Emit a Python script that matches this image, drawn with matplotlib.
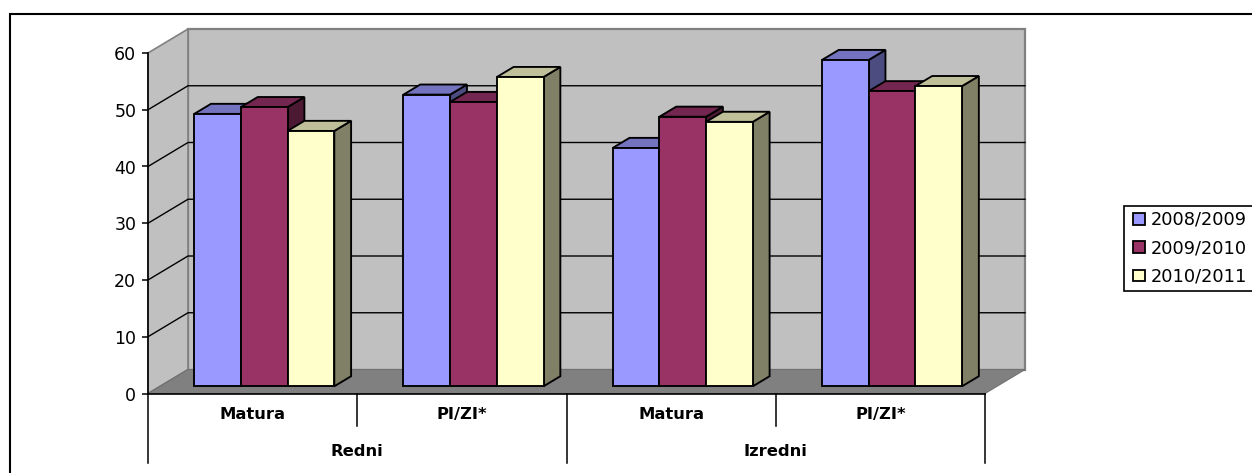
#!/usr/bin/env python3
import matplotlib
matplotlib.use('Agg')
import matplotlib.pyplot as plt
from matplotlib.patches import Polygon, Patch, Rectangle

# stretched Arial in the original, DejaVu has about the same text widths
plt.rcParams['font.family'] = ['DejaVu Sans']

# Data
groups = ['Redni', 'Izredni']
categories = ['Matura', 'PI/ZI*', 'Matura', 'PI/ZI*']
years = ['2008/2009', '2009/2010', '2010/2011']
values_2008 = [48.0, 51.4, 42.0, 57.5]
values_2009 = [49.2, 50.1, 47.5, 52.0]
values_2010 = [45.0, 54.5, 46.6, 52.9]
yticks = [0, 10, 20, 30, 40, 50, 60]

# front, top and side colours of each series
front_colors = ['#9999FF', '#993366', '#FFFFCC']
top_colors = ['#7373BF', '#732650', '#BFBF99']
side_colors = ['#4C4C80', '#4C1933', '#808066']

W, H = 1252, 473
fig = plt.figure(figsize=(W / 100, H / 100), dpi=100)
fig.patch.set_facecolor('white')

# axes is the front plane of the 3D box
left, right, y0, y60 = 148, 985, 393.5, 53
ax = fig.add_axes([left / W, 1 - y0 / H, (right - left) / W, (y0 - y60) / H])
ax.set_xlim(0, 4)
ax.set_ylim(0, 60)
ax.patch.set_visible(False)

px_x = 4 / (right - left)     # one pixel in x data units
px_y = 60 / (y0 - y60)        # one pixel in y data units
depth_x = 40 * px_x
depth_y = 24 * px_y


def proj(x, v, d):
    # d is the depth, 0 = front of the box, 1 = back wall
    return (x + d * depth_x, v + d * depth_y)


def face(points, color, edge, lw=1.0, z=1):
    ax.add_patch(Polygon(points, closed=True, facecolor=color, edgecolor=edge,
                         linewidth=lw, joinstyle='miter', clip_on=False, zorder=z))


# walls and floor
wall_edge = '#808080'
face([proj(0, 0, 1), proj(4, 0, 1), proj(4, 60, 1), proj(0, 60, 1)], '#C0C0C0', wall_edge, 1.6)
face([proj(0, 0, 0), proj(0, 0, 1), proj(0, 60, 1), proj(0, 60, 0)], '#C0C0C0', wall_edge, 1.2)
face([proj(0, 0, 0), proj(4, 0, 0), proj(4, 0, 1), proj(0, 0, 1)], '#808080', '#707070', 0.8)

# gridlines on both walls
for t in yticks[1:-1]:
    xs, ys = zip(proj(0, t, 0), proj(0, t, 1), proj(4, t, 1))
    ax.plot(xs, ys, color='black', lw=1.0, clip_on=False, zorder=1.5, solid_joinstyle='miter')

# bars
bar_w = 46.7 * px_x
gap = 34.2 * px_x
d_front, d_back = 0.30, 0.72
series = [values_2008, values_2009, values_2010]
for c in range(len(categories)):
    for s, vals in enumerate(series):
        x0 = c + gap + s * bar_w
        x1 = x0 + bar_w
        v = vals[c]
        face([proj(x1, 0, d_front), proj(x1, 0, d_back), proj(x1, v, d_back), proj(x1, v, d_front)],
             side_colors[s], 'black', 1.35, 2)
        face([proj(x0, v, d_front), proj(x1, v, d_front), proj(x1, v, d_back), proj(x0, v, d_back)],
             top_colors[s], 'black', 1.35, 2)
        face([proj(x0, 0, d_front), proj(x1, 0, d_front), proj(x1, v, d_front), proj(x0, v, d_front)],
             front_colors[s], 'black', 1.35, 2)

# axis
for name in ['top', 'right']:
    ax.spines[name].set_visible(False)
for name in ['left', 'bottom']:
    ax.spines[name].set_linewidth(1.2)
    ax.spines[name].set_zorder(3)
ax.set_yticks(yticks)
ax.set_xticks([])
ax.tick_params(axis='y', length=4.5, width=1.1, labelsize=12.5, pad=4, colors='black')

# two level category axis below the floor
for x, bottom in [(0, 69), (1, 32), (2, 69), (3, 32), (4, 69)]:
    ax.plot([x, x], [0, -bottom * px_y], color='black', lw=1.1, clip_on=False)
for i, name in enumerate(categories):
    ax.text(i + 0.5, -21 * px_y, name, ha='center', va='center', fontsize=11.8,
            fontweight='bold', clip_on=False)
for i, name in enumerate(groups):
    ax.text(2 * i + 1, -57.5 * px_y, name, ha='center', va='center', fontsize=11.8,
            fontweight='bold', clip_on=False)

# legend frame runs past the right edge like the original, so it is drawn apart
fig.add_artist(Rectangle((1123.5 / W, 1 - 291 / H), 140 / W, 85 / H, transform=fig.transFigure,
                         facecolor='white', edgecolor='black', linewidth=1.2))
handles = [Patch(facecolor=c, edgecolor='black', linewidth=1.3) for c in front_colors]
leg = fig.legend(handles, years, loc='upper left', bbox_to_anchor=(1132.5 / W, 1 - 211 / H),
                 bbox_transform=fig.transFigure, borderaxespad=0, frameon=False,
                 fontsize=12.8, handlelength=0.72, handleheight=0.62,
                 handletextpad=0.33, borderpad=0, labelspacing=0.58)

# outer frame, open on the right and at the bottom
fig.add_artist(plt.Line2D([9.5 / W, 9.5 / W, 1], [0, 1 - 14.5 / H, 1 - 14.5 / H],
                          color='black', lw=1.5, solid_joinstyle='miter'))

fig.savefig('out.png', dpi=100)
